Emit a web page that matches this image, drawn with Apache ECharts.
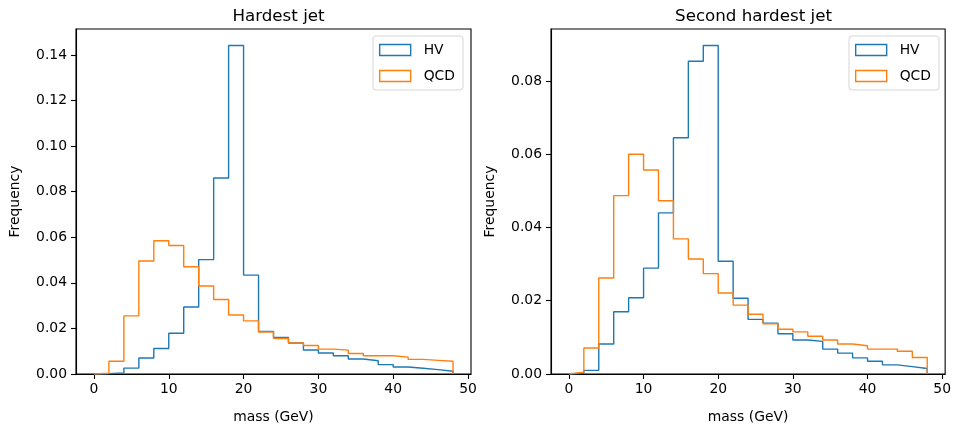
<!DOCTYPE html>
<html>
<head>
<meta charset="utf-8">
<script src="https://cdn.jsdelivr.net/npm/echarts@6/dist/echarts.min.js"></script>
<style>
  html, body { margin: 0; padding: 0; background: #fff; }
  #chart { width: 954px; height: 429px; }
</style>
</head>
<body>
<div id="chart"></div>
<script>
// Jet mass histograms, 2 GeV bins from 0 to 48 GeV
const binEdges = [0, 2, 4, 6, 8, 10, 12, 14, 16, 18, 20, 22, 24, 26, 28, 30, 32, 34, 36, 38, 40, 42, 44, 46, 48];

const hardestHV  = [0.0001, 0.0005, 0.0026, 0.0070, 0.0112, 0.0179, 0.0294, 0.0502, 0.0860, 0.1442, 0.0434, 0.0187,
                    0.0160, 0.0136, 0.0105, 0.0092, 0.0080, 0.0066, 0.0058, 0.0041, 0.0031, 0.0025, 0.0019, 0.0012];
const hardestQCD = [0.0003, 0.0056, 0.0255, 0.0496, 0.0585, 0.0564, 0.0471, 0.0386, 0.0327, 0.0259, 0.0233, 0.0184,
                    0.0156, 0.0136, 0.0125, 0.0109, 0.0105, 0.0090, 0.0080, 0.0080, 0.0074, 0.0064, 0.0060, 0.0056];

const secondHV   = [0.0002, 0.0010, 0.0082, 0.0170, 0.0208, 0.0289, 0.0440, 0.0645, 0.0854, 0.0897, 0.0308, 0.0207,
                    0.0149, 0.0139, 0.0110, 0.0093, 0.0089, 0.0068, 0.0057, 0.0044, 0.0035, 0.0025, 0.0020, 0.0015];
const secondQCD  = [0.0005, 0.0071, 0.0262, 0.0487, 0.0600, 0.0557, 0.0473, 0.0369, 0.0314, 0.0274, 0.0221, 0.0188,
                    0.0163, 0.0137, 0.0122, 0.0115, 0.0103, 0.0093, 0.0082, 0.0077, 0.0068, 0.0068, 0.0062, 0.0045];

const xTicks = [0, 10, 20, 30, 40, 50];
const yTicksHardest = [0, 0.02, 0.04, 0.06, 0.08, 0.10, 0.12, 0.14];
const yTicksSecond = [0, 0.02, 0.04, 0.06, 0.08];

const panelTitles = ['Hardest jet', 'Second hardest jet'];
const seriesNames = ['HV', 'QCD'];
const colors = ['#1f77b4', '#ff7f0e'];

// Outline of a step histogram: rise at the first edge, flat across each bin, drop at the last edge
function stepOutline(values) {
  const pts = [[binEdges[0], 0]];
  values.forEach((v, i) => pts.push([binEdges[i], v]));
  const last = binEdges[binEdges.length - 1];
  pts.push([last, values[values.length - 1]]);
  pts.push([last, 0]);
  return pts;
}

const FONT = 'DejaVu Sans';
const TICK_SIZE = 13.9;

const grids = [
  { left: 76, top: 29, width: 395, height: 346 },
  { left: 551, top: 29, width: 395, height: 346 }
];

function xAxisFor(idx) {
  return {
    type: 'value',
    gridIndex: idx,
    min: v => v.min - 0.05 * (v.max - v.min),
    max: v => v.max + 0.05 * (v.max - v.min),
    name: 'mass (GeV)',
    nameLocation: 'middle',
    nameGap: 36,
    nameTextStyle: { fontFamily: FONT, fontSize: TICK_SIZE, color: '#000' },
    axisLine: { show: true, onZero: false, lineStyle: { color: '#000', width: 1.1 } },
    axisTick: { show: true, inside: false, length: 5, customValues: xTicks, lineStyle: { color: '#000', width: 1.1 } },
    axisLabel: { customValues: xTicks, margin: 8, fontFamily: FONT, fontSize: TICK_SIZE, color: '#000' },
    splitLine: { show: false }
  };
}

function yAxisFor(idx, ticks) {
  return {
    type: 'value',
    gridIndex: idx,
    min: 0,
    max: v => v.max * 1.05,
    name: 'Frequency',
    nameLocation: 'middle',
    nameGap: 54,
    nameRotate: 90,
    nameTextStyle: { fontFamily: FONT, fontSize: TICK_SIZE, color: '#000' },
    axisLine: { show: true, onZero: false, lineStyle: { color: '#000', width: 1.1 } },
    axisTick: { show: true, inside: false, length: 5, customValues: ticks, lineStyle: { color: '#000', width: 1.1 } },
    axisLabel: {
      customValues: ticks, margin: 9, fontFamily: FONT, fontSize: TICK_SIZE, color: '#000',
      formatter: v => Number(v).toFixed(2)
    },
    splitLine: { show: false }
  };
}

function legendFor(idx, rightPos) {
  return {
    orient: 'vertical',
    right: rightPos,
    top: 36,
    padding: [7, 8, 7, 6],
    itemGap: 12,
    itemWidth: 31,
    itemHeight: 11,
    icon: 'rect',
    borderColor: '#d6d6d6',
    borderWidth: 1,
    borderRadius: 3,
    backgroundColor: 'rgba(255,255,255,0.8)',
    selectedMode: false,
    textStyle: { fontFamily: FONT, fontSize: TICK_SIZE, color: '#000', padding: [0, 0, 0, 8] },
    data: seriesNames.map((name, i) => ({
      name: name + '\u200b'.repeat(idx),
      itemStyle: { color: 'rgba(255,255,255,0)', borderColor: colors[i], borderWidth: 1.4 }
    }))
  };
}

function histSeries(name, values, idx, color) {
  return {
    name: name,
    type: 'line',
    step: 'end',
    xAxisIndex: idx,
    yAxisIndex: idx,
    showSymbol: false,
    symbol: 'none',
    data: stepOutline(values),
    lineStyle: { color: color, width: 1.4 },
    itemStyle: { color: color },
    z: 3
  };
}

const chart = echarts.init(document.getElementById('chart'), null, { renderer: 'canvas' });

chart.setOption({
  animation: false,
  backgroundColor: '#fff',
  title: panelTitles.map((t, i) => ({
    text: t,
    left: grids[i].left + grids[i].width / 2,
    top: 3,
    textAlign: 'center',
    textStyle: { fontFamily: FONT, fontSize: 16.7, fontWeight: 'normal', color: '#000' }
  })),
  grid: grids.map(g => Object.assign({ show: true, borderColor: '#000', borderWidth: 1.1, backgroundColor: 'transparent' }, g)),
  xAxis: [xAxisFor(0), xAxisFor(1)],
  yAxis: [yAxisFor(0, yTicksHardest), yAxisFor(1, yTicksSecond)],
  legend: [legendFor(0, 491), legendFor(1, 15)],
  series: [
    histSeries('HV', hardestHV, 0, colors[0]),
    histSeries('QCD', hardestQCD, 0, colors[1]),
    histSeries('HV\u200b', secondHV, 1, colors[0]),
    histSeries('QCD\u200b', secondQCD, 1, colors[1])
  ]
});
</script>
</body>
</html>
